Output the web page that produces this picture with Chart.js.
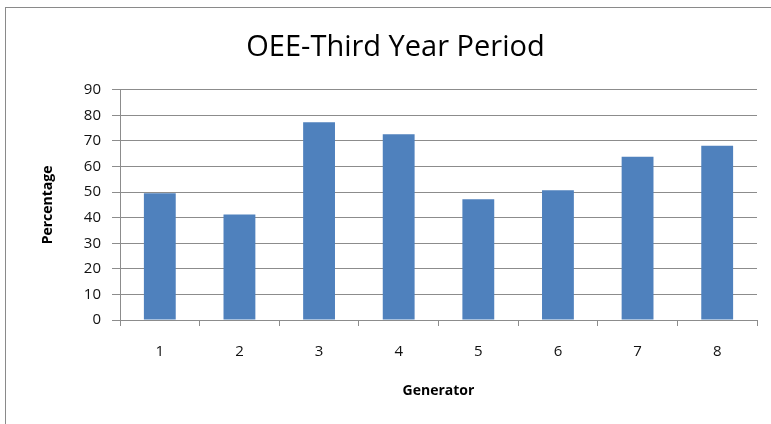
<!DOCTYPE html>
<html>
<head>
<meta charset="utf-8">
<script src="https://cdn.jsdelivr.net/npm/chart.js@4"></script>
<style>
  body { margin: 0; background: #fff; }
  #wrap { position: relative; width: 771px; height: 424px; }
  #frame { position: absolute; left: 5px; top: 7px; right: -2px; bottom: -2px; border: 1px solid #8a8a8a; }
  canvas { position: absolute; left: 0; top: 0; }
</style>
</head>
<body>
<div id="wrap">
  <div id="frame"></div>
  <canvas id="oee-chart" width="771" height="424"></canvas>
</div>
<script>
// generators and OEE percentages
const generators = ["1", "2", "3", "4", "5", "6", "7", "8"];
const oeeValues = [49.6, 41.2, 77.3, 72.6, 47.2, 50.7, 63.8, 68.1];
const yTicks = [0, 10, 20, 30, 40, 50, 60, 70, 80, 90];

const gridColor = "#8c8c8c";
const fontFamily = "'Open Sans', 'Liberation Sans', sans-serif";

const ctx = document.getElementById("oee-chart").getContext("2d");

new Chart(ctx, {
  type: "bar",
  data: {
    labels: generators,
    datasets: [
      {
        label: "OEE",
        data: oeeValues,
        backgroundColor: "#4f81bd",
        borderWidth: 0,
        barPercentage: 0.4,
        categoryPercentage: 1.0,
      },
    ],
  },
  options: {
    responsive: false,
    animation: false,
    // left padding shifts the title centre to match the reference
    layout: { padding: { left: 34, right: 14, top: 0, bottom: 0 } },
    plugins: {
      legend: { display: false },
      tooltip: { enabled: false },
      title: {
        display: true,
        text: "OEE-Third Year Period",
        color: "#000",
        font: { family: fontFamily, size: 29, weight: "normal" },
        padding: { top: 30, bottom: 25 },
      },
    },
    scales: {
      x: {
        offset: true,
        grid: { offset: true, drawOnChartArea: false, drawTicks: true, tickLength: 6, color: gridColor },
        border: { display: true, color: gridColor },
        ticks: { color: "#111", padding: 17, font: { family: fontFamily, size: 15 } },
        title: {
          display: true,
          text: "Generator",
          color: "#000",
          font: { family: fontFamily, size: 14, weight: "bold" },
          padding: { top: 0, bottom: 25 },
        },
        afterFit: (scale) => { scale.height = 104; },
      },
      y: {
        min: 0,
        max: 90,
        afterBuildTicks: (scale) => { scale.ticks = yTicks.map((v) => ({ value: v })); },
        grid: { color: gridColor, tickLength: 8 },
        border: { display: true, color: gridColor },
        ticks: { color: "#111", padding: 11, font: { family: fontFamily, size: 15 } },
        title: {
          display: true,
          text: "Percentage",
          color: "#000",
          font: { family: fontFamily, size: 14, weight: "bold" },
          padding: { top: 6, bottom: 0 },
        },
        afterFit: (scale) => { scale.width = 86; },
      },
    },
  },
});
</script>
</body>
</html>
